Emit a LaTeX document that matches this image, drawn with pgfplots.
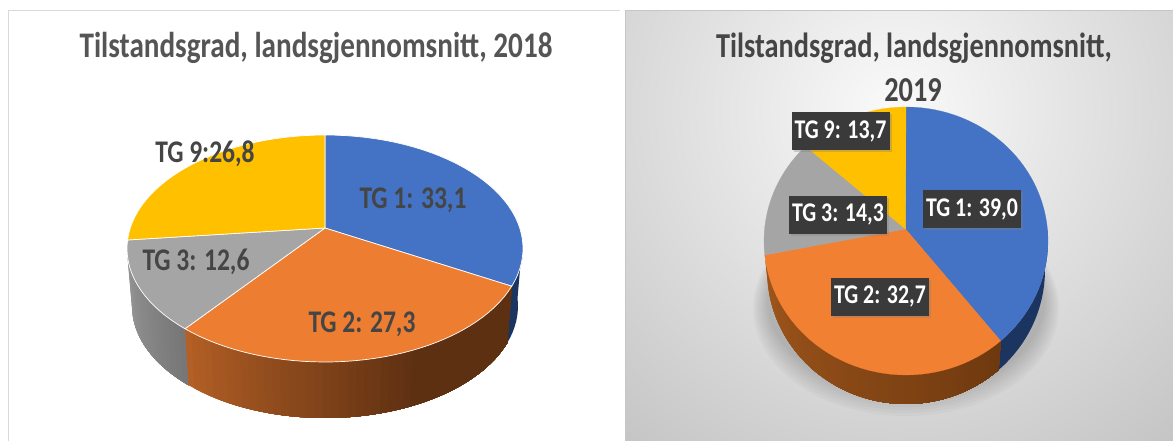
\documentclass[border=0pt]{standalone}
\usepackage{pgfplots}
\pgfplotsset{compat=1.18}
\usepackage{fontspec}
\usetikzlibrary{shadows}
\newfontfamily\cf[FakeStretch=0.81]{Carlito Bold}
\definecolor{tgblue}{HTML}{4472C4}
\definecolor{tgorange}{HTML}{ED7D31}
\definecolor{tgorangeb}{HTML}{F28033}
\definecolor{tggray}{HTML}{A5A5A5}
\definecolor{tgyellow}{HTML}{FFC000}
\definecolor{navy}{HTML}{1C3560}
\definecolor{txtgray}{HTML}{555555}
\definecolor{lblgray}{HTML}{454545}
\definecolor{boxdark}{HTML}{3A3A3A}
\definecolor{rimA}{HTML}{B35F25}
\definecolor{rimB}{HTML}{5E3012}
\definecolor{rimC}{HTML}{A0561C}
\definecolor{rimD}{HTML}{6E390F}
\definecolor{rimE}{HTML}{9C9C9C}
\definecolor{rimF}{HTML}{757575}
% ellipse arc appended to \pts: cx cy rx ry from to
\newcommand{\addarc}[6]{%
  \pgfmathtruncatemacro\nsteps{max(2,ceil(abs(#6-#5)/3))}%
  \foreach \k in {0,...,\nsteps}{%
    \pgfmathsetmacro\myt{#5+(#6-#5)*\k/\nsteps}%
    \pgfmathsetmacro\mpx{#1+#3*cos(\myt)}%
    \pgfmathsetmacro\mpy{#2-#4*sin(\myt)}%
    \xdef\pts{\pts (\mpx,\mpy)}%
  }}
% slice: apex x, apex y, cx cy rx ry, from, to, style
\newcommand{\slice}[9]{%
  \gdef\pts{(#1,#2)}%
  \addarc{#3}{#4}{#5}{#6}{#7}{#8}%
  \edef\tmp{\noexpand\addplot[#9,line join=round] coordinates {\pts} -- cycle;}%
  \tmp}
% rim piece between the top and the bottom ellipse
\newcommand{\rimstrip}[3]{%
  \gdef\pts{}%
  \addarc{\tcx}{\tcy}{\trx}{\try}{#1}{#2}%
  \addarc{\bcx}{\bcy}{\brx}{\bry}{#2}{#1}%
  \edef\tmp{\noexpand\addplot[fill=#3,draw=none] coordinates {\pts} -- cycle;}%
  \tmp}
% graded rim: from, to, colour A, colour B, angle at which B is reached.
% Each piece runs to the far end and the next paints over it, so no seams.
\newcommand{\gradrim}[5]{%
  \pgfmathtruncatemacro\nstrips{ceil((#2-#1)/2.5)}%
  \foreach \s in {1,...,\nstrips}{%
    \pgfmathsetmacro\aone{#1+(#2-#1)*(\s-1)/\nstrips}%
    \pgfmathtruncatemacro\pp{max(0,100*(1-(\aone-#1)/(#5-#1)))}%
    \rimstrip{\aone}{#2}{#3!\pp!#4}}}
\begin{document}
\begin{tikzpicture}
\begin{axis}[
  scale only axis, x=1pt, y=1pt,
  xmin=0, xmax=1173, ymin=0, ymax=441,
  y dir=reverse, hide axis, no markers, clip=true]
% panels
\fill[white] (axis cs:0,0) rectangle (axis cs:1173,441);
\draw[gray!30,line width=1pt] (axis cs:8,441) -- (axis cs:8,11) -- (axis cs:620,11);
\begin{scope}
\clip (axis cs:625,11) rectangle (axis cs:1173,441);
\fill[white!70!black] (axis cs:625,11) rectangle (axis cs:1173,441);
\shade[inner color=white!98!black,outer color=white!70!black] (axis cs:895,110) circle[radius=580pt];
\end{scope}
\draw[gray!45,line width=1pt] (axis cs:625,441) -- (axis cs:625,11) -- (axis cs:1173,11);
% ---------- 2018 ----------
\def\tcx{325}\def\tcy{248.5}\def\trx{198}\def\try{113.5}
\def\bcx{325}\def\bcy{306}\def\brx{193}\def\bry{112}
\rimstrip{-19.4}{4}{navy}
\gradrim{176}{225}{rimE}{rimF}{225}
\gradrim{225}{340.6}{rimA}{rimB}{296}
\slice{325}{228}{325}{248.5}{198}{113.5}{-19.4}{90}{fill=tgblue,draw=white,line width=0.7pt}
\slice{325}{228}{325}{248.5}{198}{113.5}{225}{340.6}{fill=tgorange,draw=white,line width=0.7pt}
\slice{325}{228}{325}{248.5}{198}{113.5}{175.7}{225}{fill=tggray,draw=white,line width=0.7pt}
\slice{325}{228}{325}{248.5}{198}{113.5}{90}{175.7}{fill=tgyellow,draw=white,line width=0.7pt}
\node[text=txtgray,font=\cf\fontsize{36}{36}\selectfont] at (axis cs:316,48) {Tilstandsgrad, landsgjennomsnitt, 2018};
\foreach \x/\y/\t in {413/200/{TG 1: 33,1},362/324/{TG 2: 27,3},196/262/{TG 3: 12,6},205/154/{TG 9:26,8}}{%
  \edef\tmp{\noexpand\node[text=lblgray,font=\noexpand\cf\noexpand\fontsize{31.5}{32}\noexpand\selectfont] at (axis cs:\x,\y) {\t};}\tmp}
% ---------- 2019 ----------
\foreach \i in {0,...,7}{%
  \pgfmathsetmacro\cyy{308-\i}\pgfmathsetmacro\rxx{153-2*\i}\pgfmathsetmacro\ryy{108-2*\i}%
  \edef\tmp{\noexpand\fill[black,opacity=0.024] (axis cs:906,\cyy) ellipse[x radius=\rxx pt,y radius=\ryy pt];}\tmp}
\def\tcx{906}\def\tcy{241}\def\trx{142}\def\try{134}
\def\bcx{906}\def\bcy{270}\def\brx{139}\def\bry{134}
\rimstrip{-48.2}{5}{navy}
\gradrim{186}{311.8}{rimC}{rimD}{311.8}
\slice{905.5}{229}{906}{241}{142}{134}{-48.2}{90}{fill=tgblue,draw=tgblue,line width=0.2pt}
\slice{905.5}{229}{906}{241}{142}{134}{186}{311.8}{fill=tgorangeb,draw=tgorangeb,line width=0.2pt}
\slice{905.5}{229}{906}{241}{142}{134}{135}{186}{fill=tggray,draw=tggray,line width=0.2pt}
\slice{905.5}{229}{906}{241}{142}{134}{90}{135}{fill=tgyellow,draw=tgyellow,line width=0.2pt}
\node[text=lblgray,font=\cf\fontsize{35}{35}\selectfont] at (axis cs:914,48) {Tilstandsgrad, landsgjennomsnitt,};
\node[text=lblgray,font=\cf\fontsize{35}{35}\selectfont] at (axis cs:913,90) {2019};
\foreach \x/\y/\t in {972/209/{TG 1: 39,0},880/296.5/{TG 2: 32,7},838/214.5/{TG 3: 14,3},840.5/131.5/{TG 9: 13,7}}{%
  \edef\tmp{\noexpand\node[fill=boxdark,text=white,inner sep=0pt,minimum width=98pt,minimum height=38pt,drop shadow={shadow xshift=2pt,shadow yshift=-2pt,opacity=0.35},font=\noexpand\cf\noexpand\fontsize{27}{27}\noexpand\selectfont] at (axis cs:\x,\y) {\t};}\tmp}
\end{axis}
\end{tikzpicture}
\end{document}
